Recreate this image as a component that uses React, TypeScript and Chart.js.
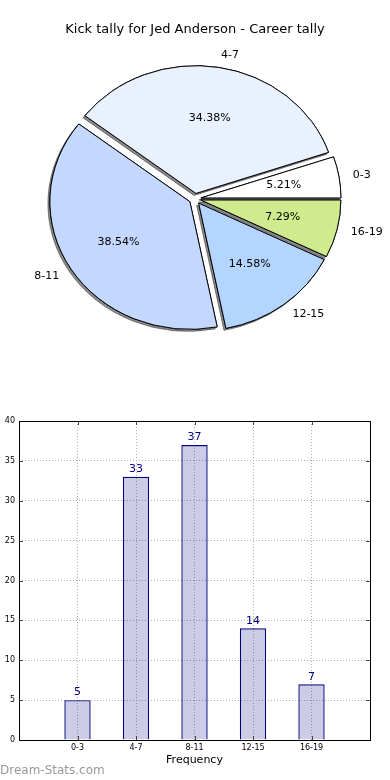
import React, { useEffect, useRef } from 'react';
import { Chart, registerables } from 'chart.js';

Chart.register(...registerables);

const TITLE = 'Kick tally for Jed Anderson - Career tally';
const categories = ['0-3', '4-7', '8-11', '12-15', '16-19'];
const counts = [5, 33, 37, 14, 7];
const pieColors = ['#ffffff', '#e9f1ff', '#c4d7ff', '#b3d5ff', '#cfeb8d'];
const yMin = 0;
const yMax = 40;
const yStep = 5;
const X_TITLE = 'Frequency';
const WATERMARK = 'Dream-Stats.com';

const FONT = "'DejaVu Sans', sans-serif";
const EXPLODE = 6;
const RADIUS = 140;
const Y_SCALE = 0.912;

const piePlugin = {
  id: 'pieLook',
  afterDatasetUpdate(chart: any, args: any) {
    const meta = chart.getDatasetMeta(args.index);
    meta.data.forEach((arc: any) => {
      const mid = (arc.startAngle + arc.endAngle) / 2;
      arc.x += Math.cos(mid) * EXPLODE;
      arc.y += Math.sin(mid) * EXPLODE;
    });
  },
  beforeDatasetsDraw(chart: any) {
    const { ctx, chartArea } = chart;
    const cx = (chartArea.left + chartArea.right) / 2;
    const cy = (chartArea.top + chartArea.bottom) / 2;
    ctx.save();
    ctx.translate(cx, cy);
    ctx.scale(1, Y_SCALE);
    ctx.translate(-cx, -cy);
    ctx.save();
    ctx.shadowColor = 'rgba(60,60,60,0.6)';
    ctx.shadowOffsetX = -2;
    ctx.shadowOffsetY = 2;
    ctx.shadowBlur = 0;
    chart.getDatasetMeta(0).data.forEach((a: any) => a.draw(ctx));
    ctx.restore();
  },
  afterDatasetsDraw(chart: any) {
    const { ctx, chartArea } = chart;
    ctx.restore();
    const cy = (chartArea.top + chartArea.bottom) / 2;
    const meta = chart.getDatasetMeta(0);
    const data = chart.data.datasets[0].data as number[];
    const total = data.reduce((a, b) => a + b, 0);
    ctx.save();
    ctx.font = `11px ${FONT}`;
    ctx.fillStyle = '#000';
    ctx.textBaseline = 'middle';
    meta.data.forEach((arc: any, i: number) => {
      const mid = (arc.startAngle + arc.endAngle) / 2;
      const c = Math.cos(mid);
      const s = Math.sin(mid);
      const R = arc.outerRadius;
      const place = (k: number) => [arc.x + c * R * k, cy + (arc.y - cy + s * R * k) * Y_SCALE];
      const [lx, ly] = place(1.1);
      ctx.textAlign = c > 0 ? 'left' : 'right';
      ctx.fillText(String(chart.data.labels[i]), lx, ly);
      const [px, py] = place(0.6);
      ctx.textAlign = 'center';
      ctx.fillText(((data[i] / total) * 100).toFixed(2) + '%', px, py);
    });
    ctx.restore();
  },
};

const barPlugin = {
  id: 'barLook',
  afterDatasetsDraw(chart: any) {
    const { ctx, chartArea } = chart;
    const { left, right, top, bottom } = chartArea;
    ctx.save();
    ctx.strokeStyle = '#444';
    ctx.lineWidth = 1;
    const ys = chart.scales.y;
    ys.ticks.forEach((_t: any, i: number) => {
      const p = Math.round(ys.getPixelForTick(i)) + 0.5;
      ctx.beginPath();
      ctx.moveTo(left, p);
      ctx.lineTo(left + 4, p);
      ctx.moveTo(right, p);
      ctx.lineTo(right - 4, p);
      ctx.stroke();
    });
    const xs = chart.scales.x;
    xs.ticks.forEach((_t: any, i: number) => {
      if (i === 0 || i === xs.ticks.length - 1) return;
      const p = Math.round(xs.getPixelForTick(i)) + 0.5;
      ctx.beginPath();
      ctx.moveTo(p, top);
      ctx.lineTo(p, top + 4);
      ctx.moveTo(p, bottom);
      ctx.lineTo(p, bottom - 4);
      ctx.stroke();
    });
    ctx.strokeStyle = '#000';
    ctx.strokeRect(Math.round(left) + 0.5, Math.round(top) + 0.5, Math.round(right - left), Math.round(bottom - top));
    const meta = chart.getDatasetMeta(0);
    const data = chart.data.datasets[0].data as (number | null)[];
    ctx.font = `11px ${FONT}`;
    ctx.fillStyle = '#000080';
    ctx.textAlign = 'center';
    ctx.textBaseline = 'bottom';
    meta.data.forEach((bar: any, i: number) => {
      const v = data[i];
      if (v === null || v === undefined) return;
      ctx.fillText(String(v), bar.x, bar.y - 2);
    });
    ctx.restore();
  },
};

export default function App() {
  const pieRef = useRef<HTMLCanvasElement>(null);
  const barRef = useRef<HTMLCanvasElement>(null);

  useEffect(() => {
    const pieLabels = [...categories].reverse();
    const pieData = [...counts].reverse();
    const pieBg = [...pieColors].reverse();
    const pie = new Chart(pieRef.current!, {
      type: 'pie',
      data: {
        labels: pieLabels,
        datasets: [
          {
            data: pieData,
            backgroundColor: pieBg,
            borderColor: '#000',
            borderWidth: 1,
            radius: RADIUS,
            clip: false,
          } as any,
        ],
      },
      options: {
        animation: false,
        responsive: false,
        rotation: 90,
        layout: { padding: 0 },
        plugins: {
          legend: { display: false },
          tooltip: { enabled: false },
          title: {
            display: true,
            text: TITLE,
            color: '#000',
            font: { family: FONT, size: 13, weight: 'normal' as any },
            padding: { top: 22, bottom: 0 },
          },
        },
      } as any,
      plugins: [piePlugin as any],
    });

    const bar = new Chart(barRef.current!, {
      type: 'bar',
      data: {
        labels: ['', ...categories, ''],
        datasets: [
          {
            data: [null, ...counts, null],
            backgroundColor: 'rgba(0,0,128,0.2)',
            borderColor: '#000080',
            borderWidth: 1.2,
            barPercentage: 0.45,
            categoryPercentage: 1,
          } as any,
        ],
      },
      options: {
        animation: false,
        responsive: false,
        layout: { padding: { top: 21, right: 20, left: 0, bottom: 0 } },
        plugins: {
          legend: { display: false },
          tooltip: { enabled: false },
        },
        scales: {
          x: {
            type: 'category',
            offset: false,
            grid: { color: '#b0b0b0', drawTicks: false, lineWidth: 1, offset: false },
            border: { display: false, dash: [1, 2] },
            ticks: {
              autoSkip: false,
              maxRotation: 0,
              color: '#000',
              padding: 3,
              font: { family: FONT, size: 8 },
            },
            title: {
              display: true,
              text: X_TITLE,
              color: '#000',
              font: { family: FONT, size: 11 },
              padding: { top: 0, bottom: 13 },
            },
            afterFit: (s: any) => {
              s.height = 40;
            },
          },
          y: {
            min: yMin,
            max: yMax,
            grid: { color: '#b0b0b0', drawTicks: false, lineWidth: 1 },
            border: { display: false, dash: [1, 2] },
            ticks: {
              stepSize: yStep,
              color: '#000',
              padding: 4,
              font: { family: FONT, size: 8 },
            },
            afterFit: (s: any) => {
              s.width = 19;
            },
          },
        },
      } as any,
      plugins: [barPlugin as any],
    });

    return () => {
      pie.destroy();
      bar.destroy();
    };
  }, []);

  return (
    <div style={{ position: 'absolute', left: 0, top: 0, width: 390, height: 780, background: '#fff' }}>
      <canvas
        ref={pieRef}
        width={390}
        height={360}
        style={{ position: 'absolute', left: 0, top: 0, width: 390, height: 360 }}
      />
      <canvas
        ref={barRef}
        width={390}
        height={380}
        style={{ position: 'absolute', left: 0, top: 400, width: 390, height: 380 }}
      />
      <div
        style={{
          position: 'absolute',
          left: 0,
          top: 763,
          fontFamily: FONT,
          fontSize: 12,
          lineHeight: '14px',
          color: '#999',
          whiteSpace: 'nowrap',
        }}
      >
        {WATERMARK}
      </div>
    </div>
  );
}
